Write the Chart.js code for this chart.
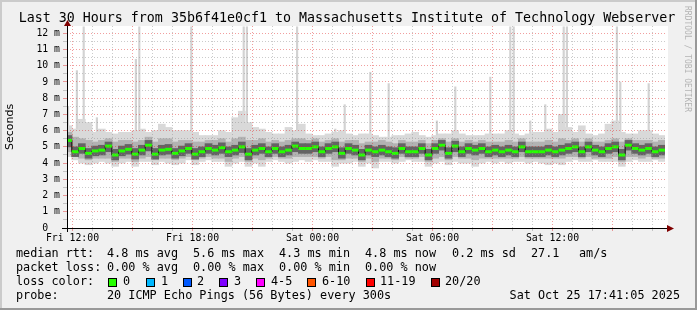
<!DOCTYPE html>
<html lang="en">
<head>
<meta charset="UTF-8">
<title>SmokePing - Last 30 Hours</title>
<script src="https://cdn.jsdelivr.net/npm/chart.js@4"></script>
<style>
  html, body { margin: 0; padding: 0; background: #f0f0f0; }
  canvas { display: block; }
</style>
</head>
<body>
<canvas id="smoke" width="697" height="310"></canvas>
<script>
    // 20 minute steps, hours counted from Fri 12:00
    const stepStart = -0.2;
    const stepHours = 1 / 3;

    // median rtt (ms)
    const medianRtt = [
        5.4, 4.7, 4.9, 4.6, 4.75, 4.8, 5.05, 4.5, 4.75, 4.85, 4.55, 4.8, 5.1, 4.55, 4.8, 4.85, 4.6, 4.75,
        4.9, 4.55, 4.7, 4.9, 4.8, 4.95, 4.7, 4.8, 5.0, 4.55, 4.8, 4.9, 4.7, 4.9, 4.7, 4.8, 5.05, 4.9,
        4.9, 5.0, 4.7, 4.9, 5.0, 4.6, 4.9, 4.8, 4.5, 4.8, 4.7, 4.8, 4.7, 4.6, 4.9, 4.7, 4.7, 4.9,
        4.5, 4.9, 5.1, 4.6, 5.05, 4.7, 4.9, 4.8, 4.9, 4.7, 4.8, 4.7, 4.8, 4.7, 5.0, 4.7, 4.7, 4.7,
        4.8, 4.7, 4.8, 4.9, 5.0, 4.7, 5.0, 4.8, 4.7, 4.9, 5.0, 4.5, 5.1, 4.9, 4.8, 4.9, 4.7, 4.8
    ];

    // outer (lightest) smoke: slowest and fastest pings
    const smokeMax = [
        6.3, 6.1, 6.7, 6.5, 5.9, 6.1, 5.9, 5.8, 5.9, 5.9, 6.0, 6.1, 5.9, 6.0, 6.4, 6.2, 6.0, 6.0,
        6.0, 5.9, 5.7, 5.7, 5.7, 6.0, 5.9, 6.8, 7.2, 6.5, 6.2, 6.1, 5.9, 5.8, 5.8, 6.2, 6.0, 6.4,
        5.8, 5.7, 5.7, 5.8, 5.9, 6.0, 5.8, 5.7, 5.8, 5.8, 5.7, 5.6, 5.6, 5.7, 5.7, 5.8, 5.9, 5.7,
        5.6, 5.7, 5.8, 5.8, 6.0, 5.8, 5.7, 5.7, 5.7, 5.8, 5.8, 5.8, 6.0, 5.8, 5.7, 5.8, 5.9, 5.9,
        6.1, 5.9, 7.0, 6.2, 5.9, 6.3, 5.8, 5.7, 5.8, 6.4, 6.6, 5.9, 5.8, 5.8, 6.0, 6.0, 5.8, 5.7
    ];
    const smokeMin = [
        4.4, 4.2, 4.0, 3.9, 4.0, 4.1, 4.0, 3.8, 4.0, 4.1, 3.8, 4.1, 4.1, 3.9, 4.1, 4.0, 3.9, 4.0,
        4.2, 3.9, 4.1, 4.2, 4.1, 4.1, 3.8, 4.0, 4.1, 3.8, 4.0, 3.8, 4.1, 4.2, 4.1, 4.0, 4.1, 4.2,
        4.1, 4.2, 4.1, 4.1, 3.8, 4.0, 4.0, 4.1, 3.8, 4.0, 3.7, 4.1, 4.1, 4.0, 4.1, 4.2, 4.1, 4.1,
        3.8, 4.0, 4.1, 3.9, 4.1, 4.0, 4.0, 3.8, 4.0, 4.1, 4.0, 4.1, 4.0, 4.1, 4.1, 4.0, 4.1, 4.0,
        3.9, 4.0, 3.9, 4.1, 4.2, 4.1, 4.1, 4.2, 4.1, 4.1, 4.1, 3.8, 4.1, 4.2, 4.1, 4.1, 4.2, 4.1
    ];

    // middle smoke band
    const midHi = [
        5.9, 5.6, 5.5, 5.4, 5.3, 5.4, 5.5, 5.3, 5.4, 5.4, 5.3, 5.4, 5.6, 5.3, 5.5, 5.5, 5.3, 5.4,
        5.4, 5.3, 5.3, 5.4, 5.4, 5.5, 5.3, 5.5, 5.6, 5.4, 5.4, 5.5, 5.3, 5.4, 5.3, 5.4, 5.5, 5.5,
        5.4, 5.5, 5.3, 5.4, 5.5, 5.3, 5.4, 5.4, 5.2, 5.3, 5.3, 5.4, 5.3, 5.2, 5.4, 5.3, 5.3, 5.4,
        5.2, 5.4, 5.5, 5.3, 5.5, 5.3, 5.4, 5.3, 5.4, 5.3, 5.3, 5.3, 5.4, 5.3, 5.5, 5.3, 5.3, 5.3,
        5.4, 5.3, 5.5, 5.4, 5.5, 5.3, 5.5, 5.3, 5.3, 5.4, 5.5, 5.3, 5.5, 5.4, 5.4, 5.4, 5.3, 5.4
    ];
    const midLo = [
        4.7, 4.4, 4.3, 4.2, 4.3, 4.3, 4.3, 4.1, 4.3, 4.3, 4.1, 4.3, 4.4, 4.2, 4.3, 4.3, 4.2, 4.3,
        4.4, 4.2, 4.3, 4.4, 4.3, 4.3, 4.1, 4.3, 4.4, 4.1, 4.3, 4.2, 4.3, 4.4, 4.3, 4.3, 4.4, 4.4,
        4.4, 4.4, 4.3, 4.4, 4.2, 4.2, 4.3, 4.3, 4.1, 4.3, 4.1, 4.3, 4.3, 4.2, 4.4, 4.3, 4.3, 4.4,
        4.1, 4.3, 4.4, 4.2, 4.4, 4.3, 4.3, 4.2, 4.3, 4.3, 4.3, 4.3, 4.3, 4.3, 4.4, 4.3, 4.3, 4.3,
        4.3, 4.3, 4.3, 4.4, 4.4, 4.3, 4.4, 4.3, 4.3, 4.3, 4.4, 4.1, 4.4, 4.4, 4.3, 4.4, 4.3, 4.3
    ];

    // dark smoke close to the median
    const coreHi = [
        5.7, 5.0, 5.2, 4.9, 5.05, 5.1, 5.3, 4.85, 5.05, 5.15, 4.9, 5.1, 5.4, 4.9, 5.1, 5.15, 4.9, 5.05,
        5.2, 4.9, 5.0, 5.2, 5.1, 5.25, 5.0, 5.1, 5.3, 4.9, 5.1, 5.2, 5.0, 5.2, 5.0, 5.1, 5.3, 5.2,
        5.2, 5.3, 5.0, 5.2, 5.3, 4.95, 5.2, 5.1, 4.85, 5.1, 5.0, 5.1, 5.0, 4.95, 5.2, 5.0, 5.0, 5.2,
        4.85, 5.2, 5.4, 4.95, 5.35, 5.0, 5.2, 5.1, 5.2, 5.0, 5.1, 5.0, 5.1, 5.0, 5.3, 5.0, 5.0, 5.0,
        5.1, 5.0, 5.1, 5.2, 5.3, 5.0, 5.3, 5.1, 5.0, 5.2, 5.3, 4.85, 5.4, 5.2, 5.1, 5.2, 5.0, 5.1
    ];
    const coreLo = [
        5.0, 4.4, 4.6, 4.3, 4.45, 4.5, 4.7, 4.2, 4.45, 4.55, 4.25, 4.5, 4.75, 4.25, 4.5, 4.55, 4.3, 4.45,
        4.6, 4.25, 4.4, 4.6, 4.5, 4.6, 4.4, 4.5, 4.65, 4.2, 4.5, 4.6, 4.4, 4.6, 4.4, 4.5, 4.7, 4.6,
        4.6, 4.7, 4.4, 4.6, 4.7, 4.3, 4.6, 4.5, 4.2, 4.5, 4.4, 4.5, 4.4, 4.3, 4.6, 4.4, 4.4, 4.6,
        4.2, 4.6, 4.8, 4.3, 4.7, 4.4, 4.6, 4.5, 4.6, 4.4, 4.5, 4.4, 4.5, 4.4, 4.7, 4.4, 4.4, 4.4,
        4.5, 4.4, 4.5, 4.6, 4.7, 4.4, 4.7, 4.5, 4.4, 4.6, 4.7, 4.2, 4.8, 4.6, 4.5, 4.6, 4.4, 4.5
    ];

    // single slow pings that stick out of the smoke
    const spikeHours = [-0.22, 0.22, 0.56, 1.22, 3.17, 3.34, 5.94, 8.56, 8.72, 11.23, 13.14, 13.61, 14.89,
                        15.81, 18.22, 19.14, 20.89, 21.89, 22.06, 22.89, 23.64, 24.56, 24.72, 27.22, 27.39, 28.81];
    const spikeTops  = [7.5, 9.7, 12.4, 6.8, 10.4, 12.4, 12.4, 12.4, 12.4, 12.4, 6.1, 7.6, 9.6,
                        8.9, 6.6, 8.7, 9.3, 12.4, 12.4, 6.6, 7.6, 12.4, 12.4, 12.4, 9.0, 8.9];
    const spikeBase = 5.5;

    const xTickHours = [0, 6, 12, 18, 24];
    const xTickLabels = ['Fri 12:00', 'Fri 18:00', 'Sat 00:00', 'Sat 06:00', 'Sat 12:00'];

    const lossLabels = ['0', '1', '2', '3', '4-5', '6-10', '11-19', '20/20'];
    const lossColors = ['#26ff00', '#00b8ff', '#0059ff', '#7e00ff', '#ff00ff', '#ff5500', '#ff0000', '#a10000'];

    const statsRtt  = ['median rtt:', '4.8 ms avg', '5.6 ms max', '4.3 ms min', '4.8 ms now', '0.2 ms sd', '27.1', 'am/s'];
    const statsLoss = ['packet loss:', '0.00 % avg', '0.00 % max', '0.00 % min', '0.00 % now'];

    const MONO = '"DejaVu Sans Mono", monospace';
    const MAJOR = 'rgba(225,40,40,0.45)';
    const MINOR = 'rgba(140,140,140,0.45)';

    const hours = medianRtt.map((_, i) => stepStart + i * stepHours);
    function band(lo, hi) {
        return hours.map((h, i) => ({ x: h, y: [lo[i], hi[i]] }));
    }

    // background, frame, axes with arrows and the RRD style legend
    const rrdFrame = {
        id: 'rrdFrame',
        beforeDraw(chart) {
            const { ctx, chartArea: a } = chart;
            ctx.save();
            ctx.fillStyle = '#f0f0f0';
            ctx.fillRect(0, 0, chart.width, chart.height);
            ctx.fillStyle = '#ffffff';
            ctx.fillRect(a.left, a.top, a.right - a.left + 3, a.bottom - a.top);
            ctx.restore();
        },
        afterDraw(chart) {
            const { ctx, chartArea: a } = chart;
            ctx.save();

            // axes
            ctx.strokeStyle = '#000';
            ctx.lineWidth = 1;
            ctx.beginPath();
            ctx.moveTo(a.left - 5, a.bottom + 0.5);
            ctx.lineTo(a.right + 3, a.bottom + 0.5);
            ctx.moveTo(a.left + 0.5, a.bottom + 4);
            ctx.lineTo(a.left + 0.5, a.top - 1);
            ctx.stroke();
            ctx.fillStyle = '#7f0000';
            ctx.beginPath();
            ctx.moveTo(a.right + 2, a.bottom - 3);
            ctx.lineTo(a.right + 9, a.bottom + 0.5);
            ctx.lineTo(a.right + 2, a.bottom + 4);
            ctx.closePath();
            ctx.fill();
            ctx.beginPath();
            ctx.moveTo(a.left - 3, a.top);
            ctx.lineTo(a.left + 0.5, a.top - 6);
            ctx.lineTo(a.left + 4, a.top);
            ctx.closePath();
            ctx.fill();

            // title
            ctx.fillStyle = '#000';
            ctx.textBaseline = 'middle';
            ctx.textAlign = 'center';
            ctx.font = '13.3px ' + MONO;
            ctx.fillText('Last 30 Hours from 35b6f41e0cf1 to Massachusetts Institute of Technology Webserver', 347, 19);

            // y axis title
            ctx.save();
            ctx.translate(10, 127);
            ctx.rotate(-Math.PI / 2);
            ctx.font = '11px "DejaVu Sans", sans-serif';
            ctx.fillText('Seconds', 0, 0);
            ctx.restore();

            // watermark
            ctx.save();
            ctx.translate(687, 59);
            ctx.rotate(Math.PI / 2);
            ctx.fillStyle = '#b4b4b4';
            ctx.font = '8px ' + MONO;
            ctx.fillText('RRDTOOL / TOBI OETIKER', 0, 0);
            ctx.restore();

            // legend lines
            ctx.textAlign = 'left';
            ctx.font = '11.8px ' + MONO;
            const rttX = [16, 107, 193, 279, 365, 452, 531, 579];
            statsRtt.forEach((t, i) => ctx.fillText(t, rttX[i], 254));
            statsLoss.forEach((t, i) => ctx.fillText(t, rttX[i], 268));

            ctx.fillText('loss color:', 16, 282);
            const boxX = [108, 146, 183, 219, 256, 307, 366, 431];
            const labX = [123, 161, 197, 234, 271, 322, 380, 445];
            lossLabels.forEach((t, i) => {
                ctx.fillStyle = lossColors[i];
                ctx.fillRect(boxX[i], 278, 9, 9);
                ctx.strokeStyle = '#000';
                ctx.strokeRect(boxX[i] + 0.5, 278.5, 8, 8);
                ctx.fillStyle = '#000';
                ctx.fillText(t, labX[i], 282);
            });

            ctx.fillText('probe:', 16, 296);
            ctx.fillText('20 ICMP Echo Pings (56 Bytes) every 300s', 107, 296);
            ctx.textAlign = 'right';
            ctx.fillText('Sat Oct 25 17:41:05 2025', 680, 296);

            // 3d frame
            ctx.fillStyle = '#cbcbcb';
            ctx.fillRect(0, 0, chart.width, 2);
            ctx.fillRect(0, 0, 2, chart.height);
            ctx.fillStyle = '#999999';
            ctx.fillRect(0, chart.height - 2, chart.width, 2);
            ctx.fillRect(chart.width - 2, 0, 2, chart.height);
            ctx.restore();
        }
    };

    const smokeBar = { type: 'bar', grouped: false, borderWidth: 0, barThickness: 7 };

    new Chart(document.getElementById('smoke'), {
        type: 'bar',
        data: {
            datasets: [
                {
                    type: 'line', label: 'median rtt', order: 0,
                    data: hours.map((h, i) => ({ x: h, y: medianRtt[i] })),
                    borderColor: '#111', borderWidth: 1, stepped: 'middle',
                    pointStyle: 'line', pointRadius: 3.4, pointBorderWidth: 3,
                    pointBorderColor: '#26ff00', pointBackgroundColor: '#26ff00'
                },
                { ...smokeBar, label: 'core', order: 1, backgroundColor: '#646464', data: band(coreLo, coreHi) },
                { ...smokeBar, label: 'mid', order: 2, backgroundColor: '#b2b2b2', data: band(midLo, midHi) },
                { ...smokeBar, label: 'outer', order: 3, backgroundColor: '#d9d9d9', data: band(smokeMin, smokeMax) },
                {
                    type: 'bar', label: 'spikes', order: 4, grouped: false, borderWidth: 0, barThickness: 1.5,
                    backgroundColor: '#d2d2d2',
                    data: spikeHours.map((h, i) => ({ x: h, y: [spikeBase, spikeTops[i]] }))
                }
            ]
        },
        options: {
            responsive: false,
            animation: false,
            devicePixelRatio: 1,
            layout: { padding: { left: 0, right: 32, top: 26, bottom: 62 } },
            plugins: { legend: { display: false }, tooltip: { enabled: false } },
            scales: {
                x: {
                    type: 'linear', min: -0.275, max: 29.625, offset: false,
                    afterFit: s => { s.height = 20; },
                    ticks: {
                        stepSize: 1, includeBounds: false, autoSkip: false, maxRotation: 0, maxTicksLimit: 100,
                        padding: 2, color: '#000', font: { family: MONO, size: 9.8 },
                        callback: v => {
                            const i = xTickHours.indexOf(Math.round(v));
                            return i >= 0 && Math.abs(v - Math.round(v)) < 1e-6 ? xTickLabels[i] : '';
                        }
                    },
                    grid: {
                        offset: false, z: 1, tickLength: 3,
                        color: c => (c.tick && Math.round(c.tick.value) % 3 === 0) ? MAJOR : MINOR,
                        tickColor: c => (c.tick && Math.round(c.tick.value) % 3 === 0) ? MAJOR : MINOR
                    },
                    border: { display: false, dash: [1, 2] }
                },
                y: {
                    min: 0, max: 12.45,
                    afterFit: s => { s.width = 67; },
                    ticks: {
                        stepSize: 0.5, includeBounds: false, autoSkip: false, maxTicksLimit: 100,
                        padding: 3, color: '#000', font: { family: MONO, size: 9.8 },
                        callback: v => {
                            if (Math.abs(v - Math.round(v)) > 1e-6) return '';
                            return v === 0 ? '0  ' : Math.round(v) + ' m';
                        }
                    },
                    grid: {
                        z: 1, tickLength: 4,
                        color: c => (c.tick && Math.abs(c.tick.value - Math.round(c.tick.value)) < 1e-6) ? MAJOR : MINOR,
                        tickColor: c => (c.tick && Math.abs(c.tick.value - Math.round(c.tick.value)) < 1e-6) ? MAJOR : MINOR
                    },
                    border: { display: false, dash: [1, 2] }
                }
            }
        },
        plugins: [rrdFrame]
    });
</script>
</body>
</html>
